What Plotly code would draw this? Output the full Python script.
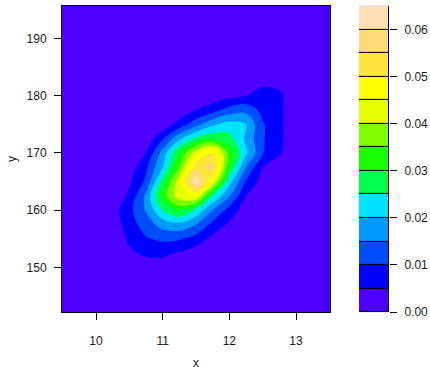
import plotly.graph_objects as go

# grid of the density estimate
x_grid = [10.25, 10.5, 10.75, 11.0, 11.25, 11.5, 11.75, 12.0, 12.25, 12.5, 12.75, 13.0]
y_grid = [150.0, 152.5, 155.0, 157.5, 160.0, 162.5, 165.0, 167.5, 170.0, 172.5, 175.0, 177.5, 180.0, 182.5]

z_150 = [0, 0.001, 0.002, 0.002, 0.001, 0, 0, 0, 0, 0, 0, 0]
z_152 = [0, 0.004, 0.006, 0.0062, 0.0045, 0.002, 0, 0, 0, 0, 0, 0]
z_155 = [0.001, 0.006, 0.0095, 0.011, 0.0105, 0.008, 0.0035, 0.001, 0, 0, 0, 0]
z_157 = [0.002, 0.0075, 0.0125, 0.017, 0.0185, 0.015, 0.0085, 0.004, 0.001, 0, 0, 0]
z_160 = [0.0025, 0.0085, 0.0155, 0.025, 0.031, 0.024, 0.015, 0.008, 0.002, 0, 0, 0]
z_162 = [0.001, 0.006, 0.016, 0.032, 0.043, 0.046, 0.025, 0.0155, 0.005, 0.001, 0, 0]
z_165 = [0, 0.004, 0.011, 0.027, 0.043, 0.064, 0.045, 0.022, 0.0095, 0.003, 0, 0]
z_167 = [0, 0.002, 0.009, 0.020, 0.035, 0.053, 0.057, 0.030, 0.015, 0.005, 0.002, 0]
z_170 = [0, 0, 0.005, 0.017, 0.030, 0.043, 0.051, 0.033, 0.021, 0.0105, 0.0055, 0]
z_172 = [0, 0, 0.001, 0.0095, 0.019, 0.026, 0.029, 0.027, 0.019, 0.0105, 0.0065, 0]
z_175 = [0, 0, 0, 0.001, 0.007, 0.013, 0.019, 0.022, 0.020, 0.0105, 0.0065, 0]
z_177 = [0, 0, 0, 0, 0.001, 0.005, 0.008, 0.012, 0.0135, 0.0085, 0.0065, 0]
z_180 = [0, 0, 0, 0, 0, 0.001, 0.002, 0.0035, 0.0048, 0.008, 0.0062, 0.001]
z_182 = [0, 0, 0, 0, 0, 0, 0, 0, 0.001, 0.003, 0.003, 0]

z_rows = [z_150, z_152, z_155, z_157, z_160, z_162, z_165, z_167,
          z_170, z_172, z_175, z_177, z_180, z_182]

levels = [0.000, 0.005, 0.010, 0.015, 0.020, 0.025, 0.030, 0.035,
          0.040, 0.045, 0.050, 0.055, 0.060, 0.065]
band_colors = ["#4C00FF", "#0000FF", "#004CFF", "#0099FF", "#00E5FF", "#00FF4D",
               "#1AFF00", "#80FF00", "#E6FF00", "#FFFF00", "#FFE53C", "#FFDB77", "#FFE0B3"]

x_ticks = [10, 11, 12, 13]
y_ticks = [150, 160, 170, 180, 190]
bar_ticks = [0.00, 0.01, 0.02, 0.03, 0.04, 0.05, 0.06]
bar_ticklabels = ["0.00", "0.01", "0.02", "0.03", "0.04", "0.05", "0.06"]

n = len(band_colors)
cscale = []
for i, c in enumerate(band_colors):
    lo = max(0.0, (i - 0.5) / (n - 1))
    hi = min(1.0, (i + 0.5) / (n - 1))
    cscale.append([lo, c])
    cscale.append([hi, c])

W, H = 430, 375
FONT = "Liberation Sans, Arial, sans-serif"
TXT = "#1a1a1a"

fig = go.Figure()
fig.add_trace(go.Contour(
    x=x_grid, y=y_grid, z=z_rows,
    colorscale=cscale, showscale=False,
    contours=dict(start=levels[1], end=levels[-2], size=0.005,
                  coloring="fill", showlines=False),
    line=dict(width=0, smoothing=1.0),
    hoverinfo="skip",
    xaxis="x", yaxis="y",
))

# colour key drawn as stacked bars
fig.add_trace(go.Bar(
    x=[0] * n, y=[levels[i + 1] - levels[i] for i in range(n)], base=levels[:-1],
    marker=dict(color=band_colors, line=dict(color="black", width=1)),
    width=1, xaxis="x2", yaxis="y2", hoverinfo="skip", showlegend=False,
))

px0, px1, py0, py1 = 62, 330, 6, 318
cx0, cx1 = 359, 389

fig.update_layout(
    width=W, height=H,
    margin=dict(l=0, r=0, t=0, b=0),
    paper_bgcolor="white",
    plot_bgcolor="#4C00FF",
    bargap=0,
    showlegend=False,
    font=dict(family=FONT, size=12, color=TXT),
    xaxis=dict(domain=[px0 / W, px1 / W], range=[9.49, 13.51],
               tickvals=x_ticks, ticks="outside", ticklen=7, tickcolor="black",
               showgrid=False, zeroline=False, showline=True, mirror=True,
               linecolor="black", linewidth=1, ticklabelstandoff=11,
               anchor="y"),
    yaxis=dict(domain=[1 - py1 / H, 1 - py0 / H], range=[142.2, 195.7],
               tickvals=y_ticks, ticks="outside", ticklen=7, tickcolor="black",
               showgrid=False, zeroline=False, showline=True, mirror=True,
               linecolor="black", linewidth=1, ticklabelstandoff=5,
               anchor="x"),
    xaxis2=dict(domain=[cx0 / W, cx1 / W], range=[-0.5, 0.5], visible=False,
                anchor="y2"),
    yaxis2=dict(domain=[1 - py1 / H, 1 - py0 / H], range=[0, 0.065],
                side="right", tickvals=bar_ticks, ticktext=bar_ticklabels,
                ticks="outside", ticklen=7, tickcolor="black",
                showgrid=False, zeroline=False, showline=False,
                ticklabelstandoff=5, anchor="x2"),
    annotations=[
        dict(text="x", x=(px0 + px1) / 2 / W, y=1 - 370 / H, xref="paper", yref="paper",
             xanchor="center", yanchor="middle",
             showarrow=False, font=dict(size=12, color=TXT)),
        dict(text="y", x=12 / W, y=1 - (py0 + py1) / 2 / H, xref="paper", yref="paper",
             xanchor="center", yanchor="middle",
             showarrow=False, textangle=-90, font=dict(size=12, color=TXT)),
    ],
)

post = """
var de = document.documentElement, b = document.body;
de.style.margin = '0'; de.style.padding = '0'; de.style.overflow = 'hidden';
b.style.margin = '0'; b.style.padding = '0'; b.style.overflow = 'hidden';
"""

fig.write_html("out.html", config={"displayModeBar": False}, post_script=post)
